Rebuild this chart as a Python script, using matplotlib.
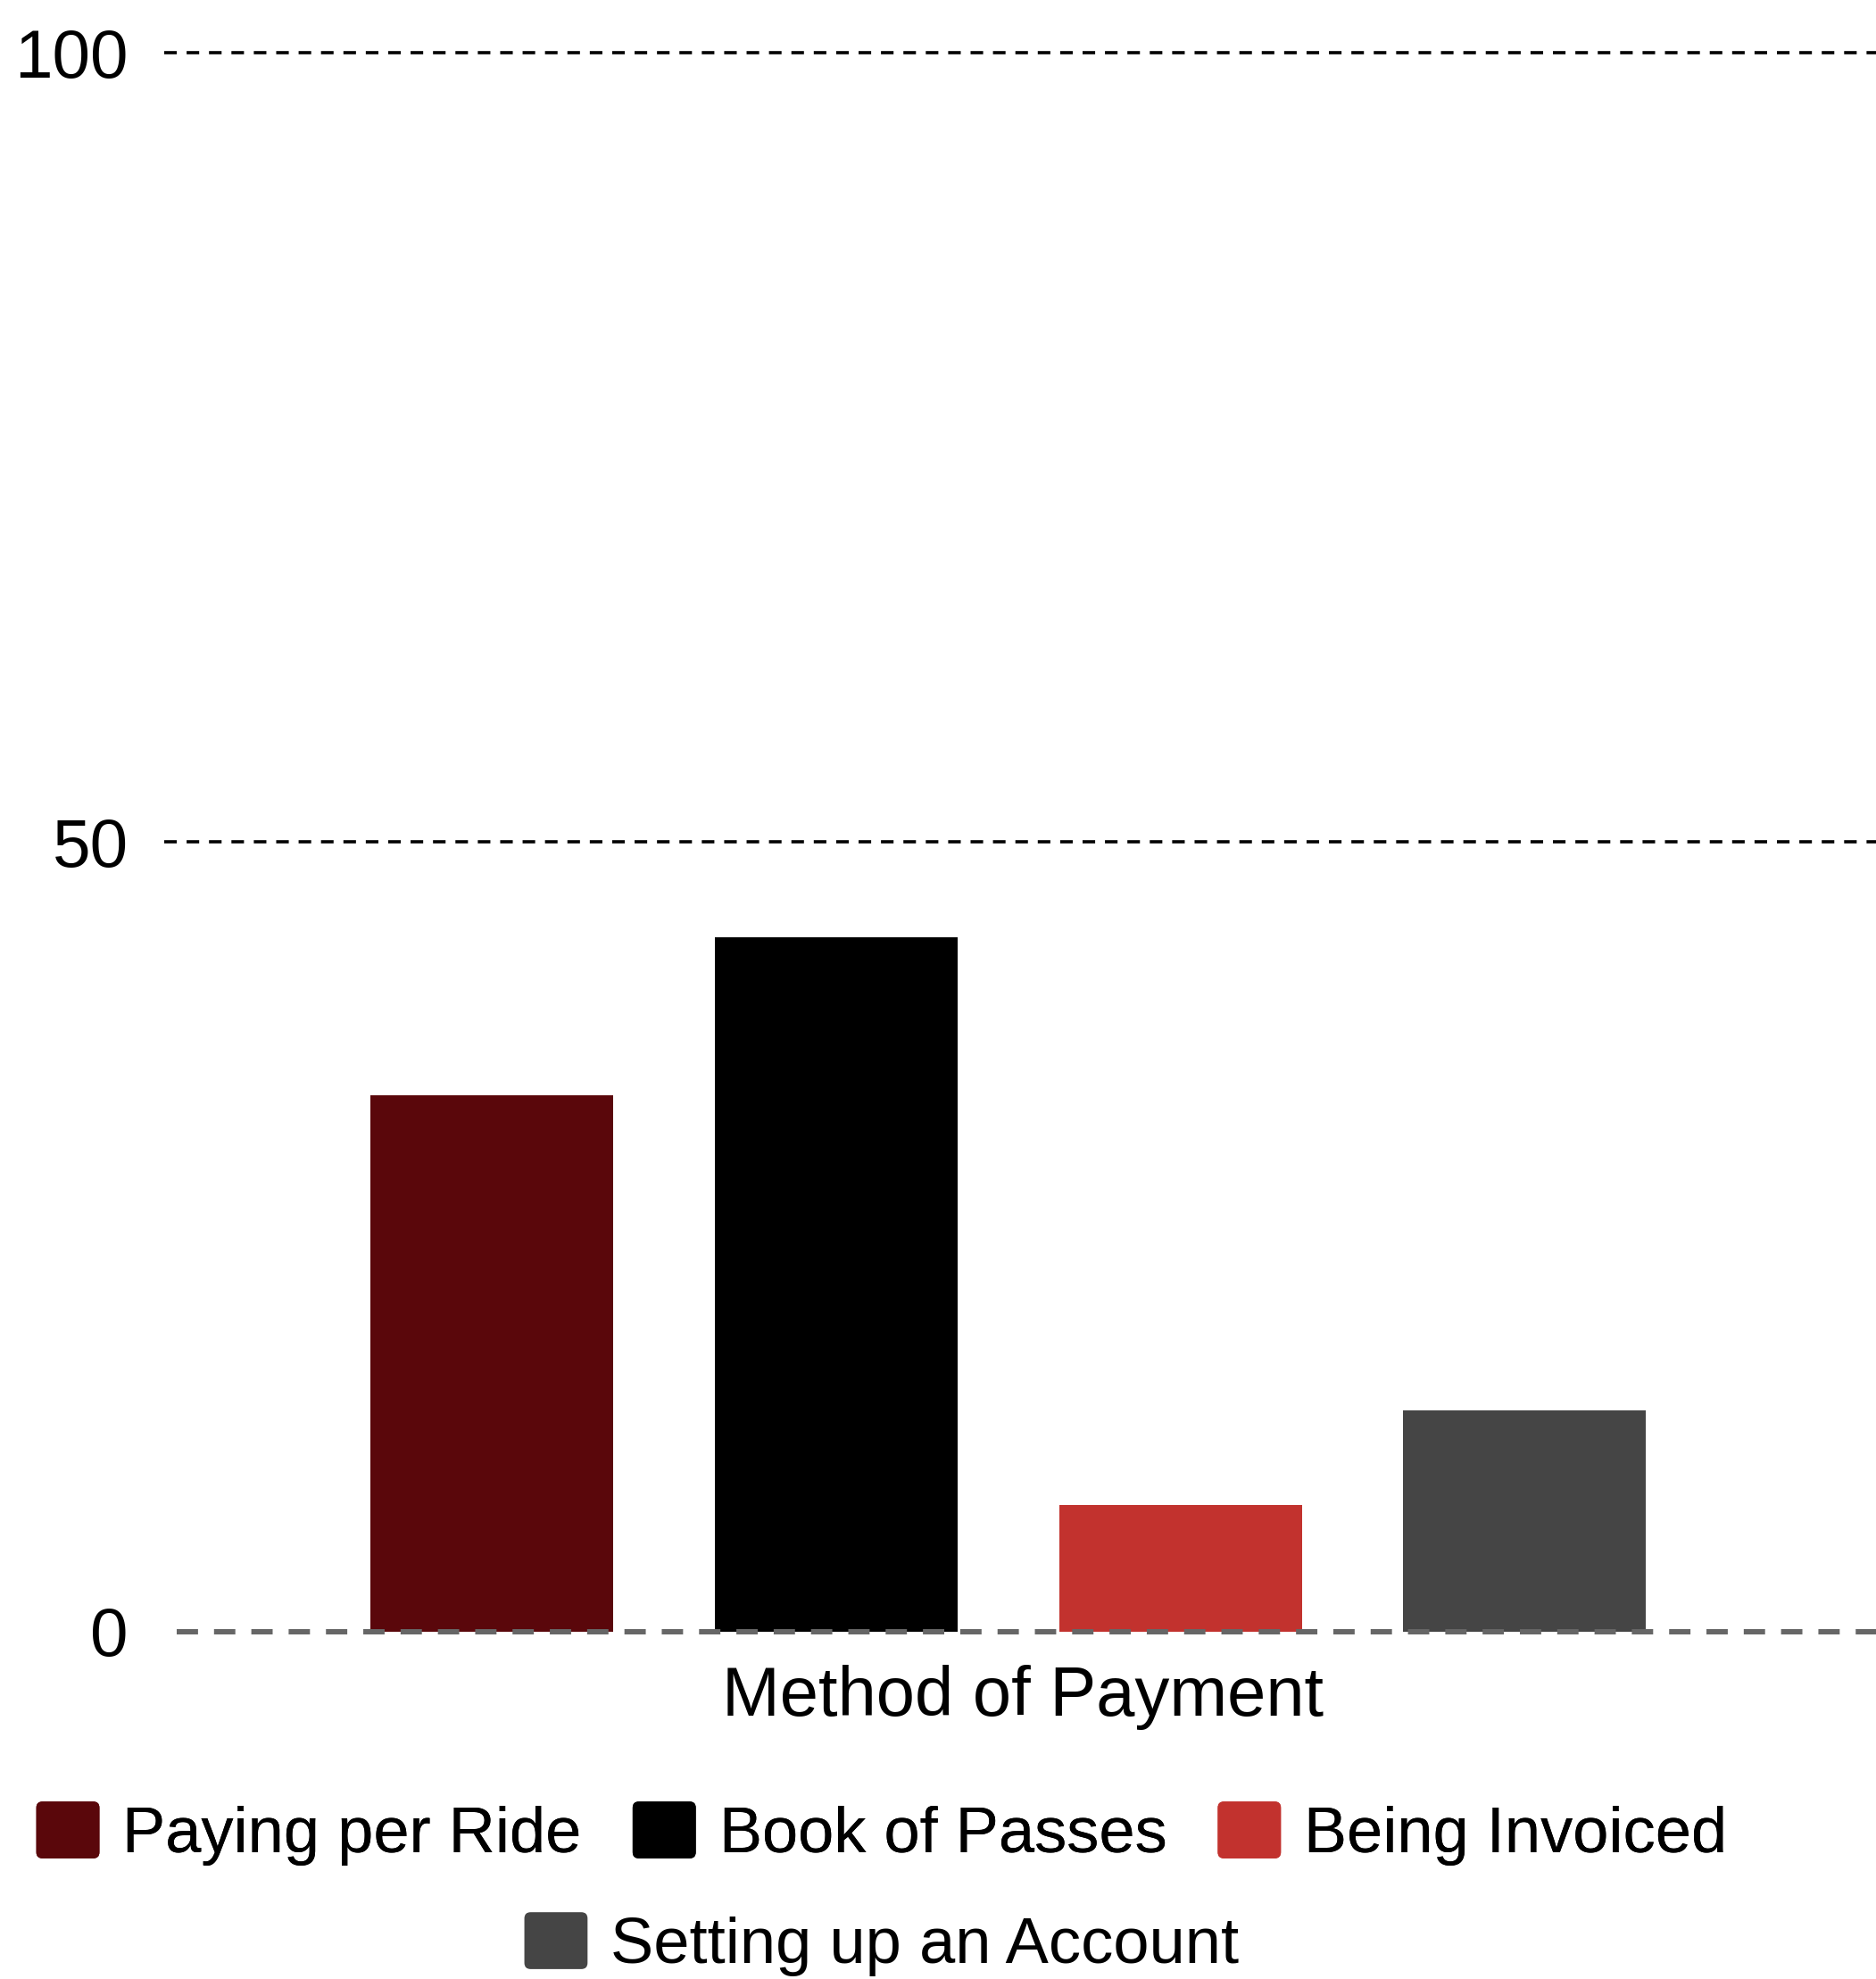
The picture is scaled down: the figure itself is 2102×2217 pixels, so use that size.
import numpy as np
import matplotlib
matplotlib.use('Agg')
import matplotlib.pyplot as plt
from matplotlib.patches import FancyBboxPatch, Patch
from matplotlib.legend_handler import HandlerPatch

plt.rcParams['font.family'] = ['Liberation Sans', 'DejaVu Sans']

# Data
methods = ['Paying per Ride', 'Book of Passes', 'Being Invoiced', 'Setting up an Account']
values = [34, 44, 8, 14]
colors = ['#5a070b', '#000000', '#c2322e', '#454545']
y_ticks = [0, 50, 100]
x_label = 'Method of Payment'


class RoundedHandler(HandlerPatch):
    # legend swatches with slightly rounded corners
    def create_artists(self, legend, orig_handle, xdescent, ydescent,
                       width, height, fontsize, trans):
        p = FancyBboxPatch((-xdescent, -ydescent), width, height,
                           boxstyle='round,pad=0,rounding_size=5',
                           facecolor=orig_handle.get_facecolor(),
                           edgecolor='none', transform=trans)
        return [p]


W, H = 2102, 2217
fig = plt.figure(figsize=(W / 100, H / 100), dpi=100)
ax = fig.add_axes([184 / W, 1 - 1828 / H, 1 - 184 / W, (1828 - 59) / H])

x = np.arange(len(methods))
ax.bar(x, values, width=0.705, color=colors, zorder=2)

ax.set_xlim(-0.951, 4.02)
ax.set_ylim(0, 100)

# gridlines
for yv in y_ticks[1:]:
    ax.axhline(yv, color='black', lw=2.6, linestyle=(0, (3.9, 3.05)), zorder=1, clip_on=False)
ax.axhline(0, xmin=0.0073, color='#666666', lw=4.3, linestyle=(0, (4, 3)), zorder=3, clip_on=False)

ax.set_yticks(y_ticks)
ax.set_yticklabels([str(v) for v in y_ticks], fontsize=55)
ax.tick_params(axis='y', length=0, pad=29)
ax.set_xticks([])
for s in ax.spines.values():
    s.set_visible(False)

fig.text(1146 / W, 1 - 1901 / H, x_label, fontsize=56, ha='center', va='center')

handles = [Patch(facecolor=c) for c in colors]
common = dict(frameon=False, fontsize=52, handlelength=0.98, handleheight=0.98,
              handletextpad=0.36, columnspacing=0.79, borderpad=0, borderaxespad=0,
              handler_map={Patch: RoundedHandler()})
leg1 = fig.legend(handles[:3], methods[:3], ncol=3, loc='center',
                  bbox_to_anchor=(988 / W, 1 - 2054 / H), **common)
fig.add_artist(leg1)
fig.legend(handles[3:], methods[3:], ncol=1, loc='center',
           bbox_to_anchor=(988 / W, 1 - 2178 / H), **common)

fig.savefig('out.png', dpi=100)
